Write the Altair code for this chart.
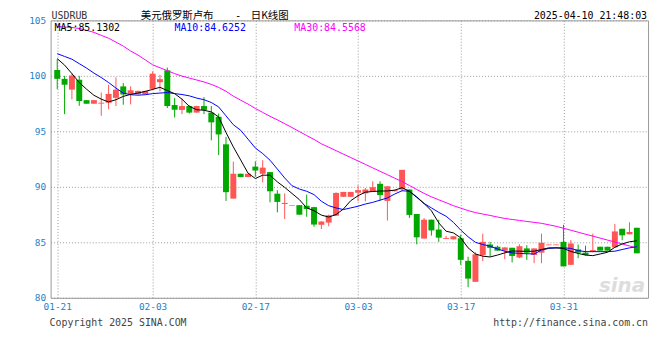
import altair as alt
import pandas as pd

# ---- data ----
idx = list(range(80))  # one candle per calendar day, 2025-01-21 .. 2025-04-10
opens = [100.53, 99.73, 98.76, 99.65, 97.81, 97.49, 97.5, 97.58, 98.02, 99.05,
         98.37, 98.35, 98.35, 98.83, 99.43, 100.5, 97.37, 96.93, 97.28, 96.69,
         97.28, 96.69, 96.31, 93.83, 88.94, 91.18, 90.88, 91.82, 91.18, 91.33,
         89.38, 88.45, 88.3, 88.35, 88.3, 88.17, 86.58, 86.78, 87.4, 89.1,
         89.1, 89.47, 89.41, 89.56, 90.27, 88.73, 89.6, 89.76, 89.76, 87.55,
         85.34, 87.04, 86.15, 85.3, 85.27, 85.37, 83.33, 81.44, 83.86, 84.8,
         84.6, 84.25, 84.51, 83.63, 84.45, 83.86, 84.07, 84.74, 84.74, 85.04,
         82.97, 84.36, 84.07, 84.21, 84.6, 84.6, 84.54, 86.22, 85.72, 86.31]
highs = [101.5, 100.0, 100.23, 100.0, 97.81, 97.81, 98.5, 99.2, 99.85, 99.35,
         99.05, 98.65, 98.65, 100.4, 100.1, 100.75, 98.0, 97.96, 97.35, 97.3,
         98.08, 97.28, 96.6, 94.5, 92.27, 91.18, 91.18, 92.3, 92.4, 91.33,
         89.7, 89.41, 88.35, 88.35, 89.3, 88.2, 86.9, 87.5, 89.5, 89.54,
         89.54, 90.12, 89.9, 90.5, 90.5, 90.05, 89.76, 91.53, 89.76, 87.55,
         87.19, 87.04, 87.04, 85.58, 85.54, 85.7, 83.7, 84.1, 85.78, 85.04,
         84.7, 84.54, 84.51, 84.83, 84.74, 84.45, 85.78, 84.8, 84.8, 86.58,
         85.2, 84.8, 84.7, 85.78, 84.6, 84.6, 86.66, 86.22, 86.81, 86.31]
lows = [98.8, 96.55, 97.88, 97.3, 97.49, 97.49, 96.4, 96.99, 97.28, 97.4,
        97.43, 98.35, 98.35, 98.7, 98.6, 97.1, 96.25, 96.55, 96.6, 96.69,
        96.55, 94.19, 92.86, 88.73, 88.94, 90.88, 90.88, 90.9, 90.4, 88.6,
        87.7, 87.1, 88.3, 87.49, 87.3, 86.4, 86.2, 86.45, 87.4, 89.1,
        89.1, 88.7, 88.7, 89.56, 88.73, 86.96, 89.6, 89.6, 87.2, 84.82,
        85.34, 85.6, 85.04, 85.3, 85.27, 82.97, 80.95, 81.44, 83.3, 83.72,
        84.25, 83.48, 83.19, 83.57, 83.42, 83.12, 83.12, 84.74, 84.74, 82.83,
        82.97, 83.57, 83.8, 84.1, 84.25, 84.25, 84.54, 85.19, 85.72, 84.01]
closes = [99.73, 99.2, 100.03, 97.73, 97.49, 97.81, 97.58, 98.37, 98.76, 98.32,
          98.7, 98.65, 98.65, 100.2, 99.7, 97.28, 96.95, 97.28, 96.69, 97.28,
          96.93, 95.81, 94.72, 89.52, 91.18, 90.88, 91.18, 91.47, 91.73, 89.6,
          88.64, 88.55, 88.35, 87.49, 88.0, 86.6, 86.87, 87.43, 89.45, 89.54,
          89.54, 89.7, 89.76, 89.97, 89.26, 90.05, 89.7, 91.53, 87.47, 85.45,
          87.04, 86.07, 85.42, 85.38, 85.54, 83.42, 81.73, 83.92, 85.04, 84.5,
          84.25, 84.54, 83.77, 84.65, 84.07, 84.45, 84.96, 84.8, 84.8, 82.83,
          84.89, 84.07, 83.86, 84.3, 84.25, 84.25, 85.98, 85.63, 85.93, 84.01]
ma5 = [101.55, 100.97, 100.2, 99.4, 98.8, 98.25, 97.9, 97.65, 97.85, 98.15,
       98.33, 98.45, 98.6, 98.78, 98.97, 98.67, 98.4, 97.9, 97.25, 96.95,
       96.9, 96.75, 96.3, 94.9, 93.6, 92.42, 91.24, 90.75, 91.05, 91.05,
       90.45, 89.95, 89.4, 88.85, 88.1, 87.85, 87.45, 87.28, 87.5, 88.0,
       88.75, 89.2, 89.52, 89.58, 89.62, 89.63, 89.7, 89.92, 89.6, 89.05,
       88.5, 87.84, 86.75, 86.0, 85.85, 85.4, 84.5, 83.95, 83.75, 83.68,
       83.85, 84.05, 84.22, 84.2, 84.18, 84.2, 84.35, 84.5, 84.5, 84.45,
       84.18, 84.0, 83.85, 83.8, 83.95, 84.1, 84.55, 84.85, 85.05, 85.13]
ma10 = [102.0, 101.75, 101.5, 101.1, 100.7, 100.25, 99.85, 99.4, 98.9, 98.45,
        98.3, 98.26, 98.3, 98.4, 98.45, 98.5, 98.4, 98.32, 98.2, 98.0,
        97.85, 97.6, 97.2, 96.4, 95.6, 95.1, 94.3, 93.5, 93.0, 92.4,
        91.6, 90.8, 90.1, 89.8, 89.6, 89.3, 88.7, 88.3, 88.1, 87.95,
        88.1, 88.25, 88.45, 88.6, 88.8, 89.0, 89.35, 89.65, 89.6, 89.1,
        88.5, 88.1, 87.7, 87.35, 86.8, 86.1, 85.5, 85.0, 84.8, 84.65,
        84.4, 84.2, 84.05, 84.0, 83.97, 83.95, 84.3, 84.45, 84.5, 84.5,
        84.45, 84.25, 84.16, 84.16, 84.16, 84.16, 84.2, 84.35, 84.5, 84.6]
ma30 = [104.45, 104.4, 104.36, 104.27, 104.1, 103.92, 103.65, 103.39, 103.04, 102.68,
        102.24, 101.88, 101.44, 101.0, 100.73, 100.47, 100.2, 99.98, 99.8, 99.63,
        99.45, 99.23, 98.96, 98.61, 98.17, 97.81, 97.46, 97.06, 96.71, 96.35,
        96.04, 95.69, 95.34, 94.98, 94.62, 94.27, 93.88, 93.57, 93.26, 92.95,
        92.64, 92.33, 92.02, 91.71, 91.4, 91.09, 90.78, 90.47, 90.12, 89.76,
        89.41, 89.1, 88.83, 88.57, 88.3, 88.08, 87.86, 87.68, 87.55, 87.42,
        87.28, 87.15, 87.06, 86.97, 86.88, 86.8, 86.71, 86.58, 86.44, 86.27,
        86.09, 85.91, 85.73, 85.56, 85.38, 85.2, 85.03, 84.85, 84.67, 84.5]
tick_idx = [0, 13, 27, 41, 55, 69]
tick_labels = ["01-21", "02-03", "02-17", "03-03", "03-17", "03-31"]
y_ticks = [80, 85, 90, 95, 100, 105]

RED = "#ff5555"
GREEN = "#00a800"
BLUE_LBL = "#1f7fc8"
MONO = "DejaVu Sans Mono"

df = pd.DataFrame({"i": idx, "o": opens, "h": highs, "l": lows, "c": closes})
df["dir"] = ["up" if c >= o else "down" for o, c in zip(opens, closes)]
ma_df = pd.DataFrame({"i": idx, "ma5": ma5, "ma10": ma10, "ma30": ma30})

xscale = alt.Scale(domain=[-0.23, 79.85], nice=False, zero=False)
yscale = alt.Scale(domain=[80, 105], nice=False, zero=False)
label_expr = ("[" + ",".join("'%s'" % t for t in tick_labels) + "][indexof(["
              + ",".join(str(v) for v in tick_idx) + "], datum.value)]")
x_axis = alt.Axis(values=tick_idx, labelExpr=label_expr, grid=True, gridDash=[1, 2],
                  gridColor="#999999", domain=False, ticks=False, labelColor=BLUE_LBL,
                  labelFont=MONO, labelFontSize=9.5, labelPadding=4, title=None,
                  labelFlush=False, labelOverlap=False)
y_axis = alt.Axis(values=y_ticks, grid=True, gridDash=[1, 2], gridColor="#999999",
                  domain=False, ticks=False, labelColor=BLUE_LBL, labelFont=MONO,
                  labelFontSize=9.5, labelPadding=5, title=None, labelFlush=False)
color = alt.Color("dir:N", scale=alt.Scale(domain=["up", "down"], range=[RED, GREEN]), legend=None)

base = alt.Chart(df)
wicks = base.mark_rule(strokeWidth=1).encode(
    x=alt.X("i:Q", scale=xscale, axis=x_axis),
    y=alt.Y("l:Q", scale=yscale, axis=y_axis),
    y2="h:Q",
    color=color,
)
bodies = base.mark_bar(size=6).encode(
    x=alt.X("i:Q", scale=xscale),
    y=alt.Y("o:Q", scale=yscale),
    y2="c:Q",
    color=color,
)

mbase = alt.Chart(ma_df)
l30 = mbase.mark_line(color="#ff00ff", strokeWidth=1).encode(x=alt.X("i:Q", scale=xscale), y=alt.Y("ma30:Q", scale=yscale))
l10 = mbase.mark_line(color="#0000ff", strokeWidth=1).encode(x=alt.X("i:Q", scale=xscale), y=alt.Y("ma10:Q", scale=yscale))
l5 = mbase.mark_line(color="#000000", strokeWidth=1).encode(x=alt.X("i:Q", scale=xscale), y=alt.Y("ma5:Q", scale=yscale))

one = alt.Chart(pd.DataFrame({"a": [0]}))


def txt(s, x, y, color="#000000", size=10, align="left", font=MONO, **kw):
    return one.mark_text(text=s, align=align, baseline="middle", font=font,
                         fontSize=size, color=color, **kw).encode(x=alt.value(x), y=alt.value(y))


CJK = "Noto Sans CJK SC"
texts = [
    txt("USDRUB", 1, -4.5, color="#333333"),
    txt("美元俄罗斯卢布", 91, -4, size=10.5, font=CJK),
    txt("-", 186, -4.5, size=10.5, font=MONO),
    txt("日K线图", 202, -4, size=10.5, font=CJK),
    txt("2025-04-10 21:48:03", 602, -4.5, align="right"),
    txt("MA5:%.4f" % 85.1302, 4, 7.5),
    txt("MA10:%.4f" % 84.6252, 125, 7.5, color="#0000ff"),
    txt("MA30:%.4f" % 84.5568, 246, 7.5, color="#ff00ff"),
    txt("Copyright 2025 SINA.COM", -1, 305, color="#444444"),
    txt("http://finance.sina.com.cn", 603, 305, color="#444444", align="right"),
    txt("sina", 600, 268, color="#dddddd", size=20, align="right", font="DejaVu Sans",
        fontStyle="italic", fontWeight="bold"),
]

chart = alt.layer(wicks, bodies, l30, l10, l5, *texts).properties(
    width=603, height=280,
    autosize=alt.AutoSizeParams(type="none"),
    padding={"left": 43, "top": 11, "right": 4, "bottom": 30},
    background="white",
).configure_view(stroke="#999999", strokeWidth=1)

chart.save("out.html", embed_options={"renderer": "svg", "actions": False})
